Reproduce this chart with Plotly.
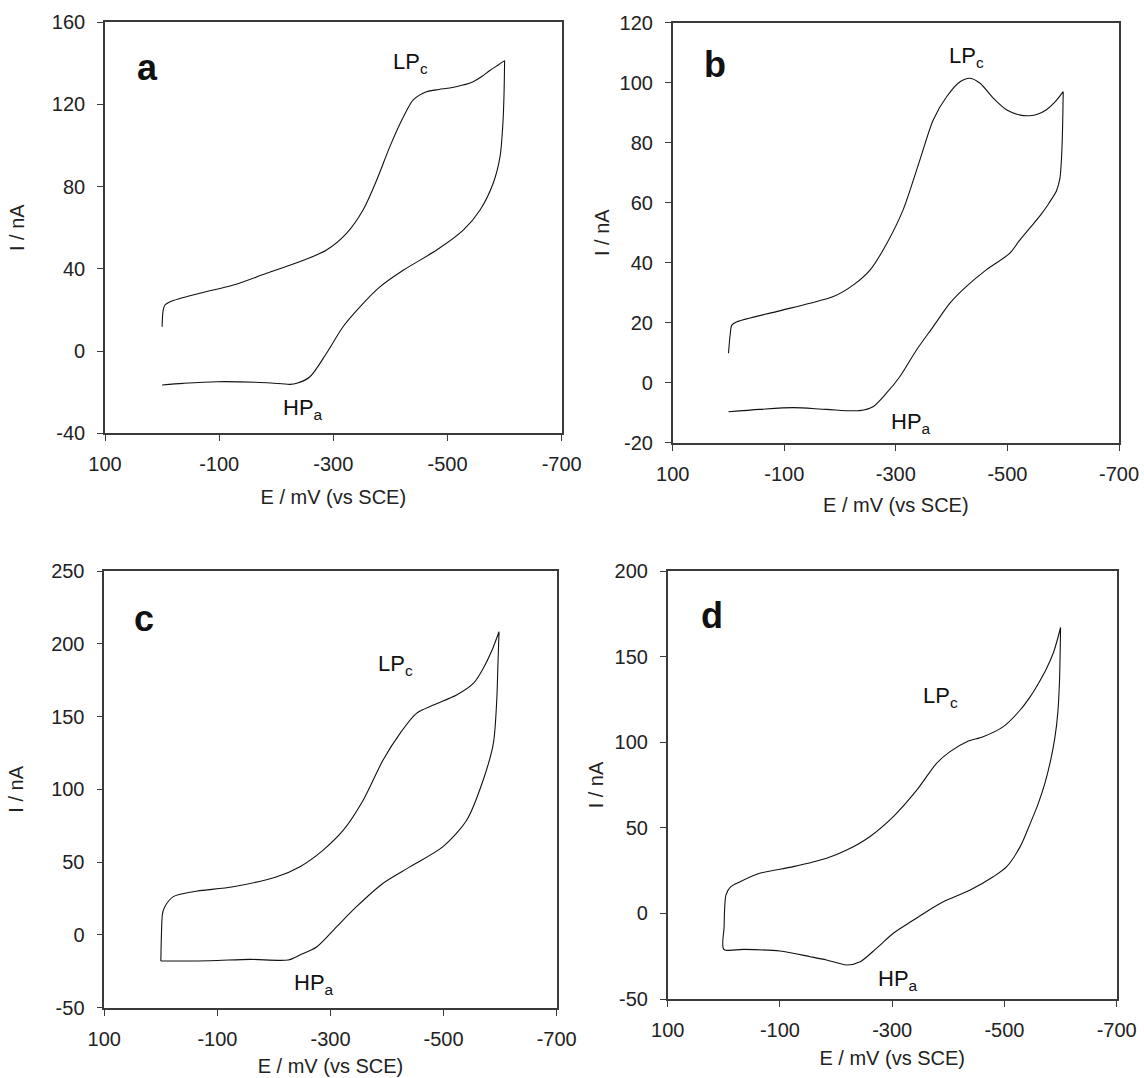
import plotly.graph_objects as go

# ---------------- data (E in mV vs SCE, I in nA) ----------------
a_fwd_E = [0, -2, -5, -14, -66, -125, -183, -242, -288, -323, -352, -376, -399, -423, -440, -463, -485, -504, -525, -545, -560, -574, -588, -600]
a_fwd_I = [11.8, 20, 22.4, 24, 28.1, 32.1, 37.8, 43.5, 49.1, 57.2, 68.6, 83.2, 99.4, 114, 122.1, 126.1, 127.2, 127.9, 129.2, 131, 133.5, 136.4, 139, 141.2]
a_rev_E = [-600, -599, -597, -592, -580, -557, -528, -481, -423, -382, -347, -317, -288, -259, -236, -224, -183, -96, -37, 0]
a_rev_I = [141.2, 125, 110.7, 94.5, 81.6, 68.6, 58.9, 49.1, 39.4, 31.3, 21.6, 11.8, -1.1, -12.5, -15.7, -16.2, -15.4, -14.9, -15.7, -16.5]

b_fwd_E = [0, -3, -6, -15, -86, -146, -188, -224, -254, -284, -313, -343, -367, -391, -415, -433, -451, -475, -499, -523, -540, -555, -570, -585, -600]
b_fwd_I = [9.8, 16, 19.2, 20.3, 23.7, 26.5, 28.7, 32.6, 37.6, 46.5, 57.6, 74.2, 87.6, 95.3, 100.3, 101.5, 99.8, 94.8, 90.9, 89.2, 89, 89.6, 91, 93.5, 97]
b_rev_E = [-600, -599, -597, -594, -588, -575, -560, -540, -520, -504, -462, -426, -397, -367, -337, -307, -283, -259, -235, -176, -116, -56, 0]
b_rev_I = [97, 86, 75, 68, 64, 60, 56, 51.5, 47, 43.1, 37.6, 32, 26.5, 18.7, 10.9, 2, -3.5, -8, -9.3, -8.9, -8.3, -8.9, -9.7]

c_fwd_E = [0, -1, -3, -7, -22, -57, -128, -205, -246, -287, -323, -358, -393, -423, -452, -482, -523, -553, -570, -585, -598]
c_fwd_I = [-18, 0, 14.8, 19.4, 26.3, 29.7, 33.1, 40, 46.9, 58.3, 72.1, 92.7, 120.2, 138.5, 152.2, 157.9, 164.8, 172.9, 183, 195, 208.3]
c_rev_E = [-598, -596, -594, -588, -570, -541, -499, -441, -393, -346, -311, -276, -246, -225, -158, -87, 0]
c_rev_I = [208.3, 185, 161.4, 131.6, 106.4, 78.9, 60.6, 46.9, 35.5, 19.4, 5.7, -8.1, -13.8, -17.2, -16.8, -17.7, -17.9]

d_fwd_E = [0, -0.5, -1.5, -4, -12, -29, -64, -124, -183, -219, -260, -302, -344, -379, -403, -433, -462, -498, -528, -546, -560, -575, -588, -600]
d_fwd_I = [-21, -8, 3, 11, 15.5, 18.5, 23.4, 27.3, 32.2, 37, 44.8, 56.5, 72.1, 87.7, 94.5, 100.3, 103.2, 109.1, 118.8, 126.6, 134, 143, 153, 167]
d_rev_E = [-600, -598, -595, -590, -582, -572, -560, -546, -528, -504, -480, -439, -391, -361, -338, -302, -272, -243, -219, -183, -154, -100, -35, 0]
d_rev_I = [167, 135, 117, 103, 89, 76, 64, 52.6, 39, 27.3, 21.4, 13.7, 6.8, 1, -3.9, -11.6, -20.4, -28.2, -30.1, -27.2, -25.3, -22, -21, -21]

x_tickvals = [100, -100, -300, -500, -700]
x_ticktext = ["100", "-100", "-300", "-500", "-700"]

a_yticks = [-40, 0, 40, 80, 120, 160]
b_yticks = [-20, 0, 20, 40, 60, 80, 100, 120]
c_yticks = [-50, 0, 50, 100, 150, 200, 250]
d_yticks = [-50, 0, 50, 100, 150, 200]

panel_letters = ["a", "b", "c", "d"]

# ---------------- layout helpers ----------------
W, H = 1144, 1078
FONT = "Liberation Sans, Arial, sans-serif"
AXCOL = "#3a3a3a"

def px_x(x):
    return x / W

def px_y(y):
    return 1 - y / H

# plot-area pixel boxes: left, right, top, bottom
boxes = {
    "a": (105, 561.7, 22, 433.3),
    "b": (672.7, 1119, 22.7, 442.7),
    "c": (104.3, 556.7, 571, 1007.7),
    "d": (667.7, 1116.7, 571, 999),
}
# axis-title standoffs (x title, y title)
standoffs = {"a": (16, 22), "b": (14, 5), "c": (10, 22), "d": (11, 6)}

fig = go.Figure()

series = {
    "a": (a_fwd_E + a_rev_E, a_fwd_I + a_rev_I, a_yticks),
    "b": (b_fwd_E + b_rev_E, b_fwd_I + b_rev_I, b_yticks),
    "c": (c_fwd_E + c_rev_E, c_fwd_I + c_rev_I, c_yticks),
    "d": (d_fwd_E + d_rev_E, d_fwd_I + d_rev_I, d_yticks),
}

layout = dict(
    width=W, height=H,
    margin=dict(l=0, r=0, t=0, b=0, autoexpand=False),
    paper_bgcolor="white", plot_bgcolor="white",
    showlegend=False,
    font=dict(family=FONT, size=20, color="#222222"),
)

for i, key in enumerate(panel_letters):
    n = "" if i == 0 else str(i + 1)
    E, I, yt = series[key]
    fig.add_trace(go.Scatter(
        x=E, y=I, mode="lines",
        line=dict(color="#111111", width=1.1, shape="spline", smoothing=0.8),
        xaxis="x" + n, yaxis="y" + n, hoverinfo="x+y",
    ))
    l, r, t, b = boxes[key]
    sx, sy = standoffs[key]
    common = dict(
        showline=True, mirror=True, linecolor=AXCOL, linewidth=1.6,
        ticks="outside", ticklen=6, tickwidth=1.2, tickcolor=AXCOL,
        showgrid=False, zeroline=False, automargin=False,
        tickfont=dict(family=FONT, size=20, color="#222222"),
    )
    layout["xaxis" + n] = dict(
        common,
        domain=[px_x(l), px_x(r)], anchor="y" + n,
        range=[100, -700], tickmode="array",
        tickvals=x_tickvals, ticktext=x_ticktext,
        ticklabelstandoff=6,
        title=dict(text="E / mV (vs SCE)", font=dict(family=FONT, size=20, color="#222222"), standoff=sx),
    )
    layout["yaxis" + n] = dict(
        common,
        domain=[px_y(b), px_y(t)], anchor="x" + n,
        range=[yt[0], yt[-1]], tickmode="array",
        tickvals=yt, ticktext=[str(v) for v in yt],
        ticklabelstandoff=8,
        title=dict(text="I / nA", font=dict(family=FONT, size=20, color="#222222"), standoff=sy),
    )

fig.update_layout(**layout)

# panel letters
letter_pos = {"a": (147, 67), "b": (715, 64), "c": (144, 618), "d": (712, 615)}
for k, (x, y) in letter_pos.items():
    fig.add_annotation(x=px_x(x), y=px_y(y), xref="paper", yref="paper",
                       text="<b>%s</b>" % k, showarrow=False,
                       font=dict(family=FONT, size=36, color="#111111"),
                       xanchor="center", yanchor="middle")

# peak labels
lp_pos = {"a": (410, 63), "b": (966, 57), "c": (395, 665), "d": (940, 697)}
hp_pos = {"a": (303, 409), "b": (911, 423), "c": (314, 984), "d": (898, 980)}
for k in panel_letters:
    x, y = lp_pos[k]
    fig.add_annotation(x=px_x(x), y=px_y(y), xref="paper", yref="paper",
                       text="LP<sub>c</sub>", showarrow=False,
                       font=dict(family=FONT, size=22, color="#111111"),
                       xanchor="center", yanchor="middle")
    x, y = hp_pos[k]
    fig.add_annotation(x=px_x(x), y=px_y(y), xref="paper", yref="paper",
                       text="HP<sub>a</sub>", showarrow=False,
                       font=dict(family=FONT, size=22, color="#111111"),
                       xanchor="center", yanchor="middle")

fig.write_html("out.html")
